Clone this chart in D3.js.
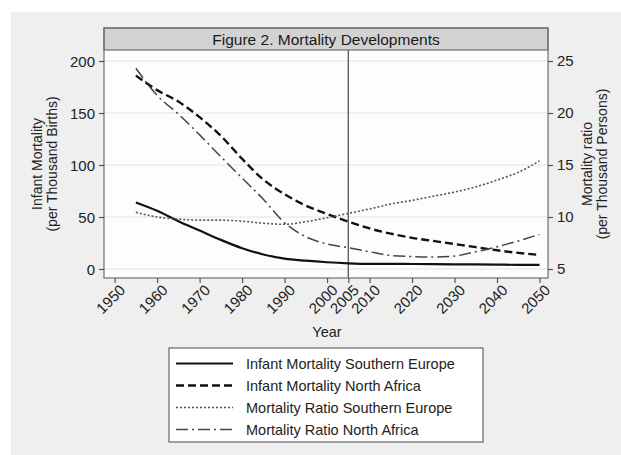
<!DOCTYPE html>
<html>
<head>
<meta charset="utf-8">
<script src="https://cdn.jsdelivr.net/npm/d3@7"></script>
<style>
  html, body { margin: 0; padding: 0; background: #ffffff; }
  svg { display: block; font-family: "Liberation Sans", Arial, sans-serif; }
</style>
</head>
<body>
<svg id="chart" width="621" height="455"></svg>
<script>
// Years observed / projected
const years = [1955, 1960, 1965, 1970, 1975, 1980, 1985, 1990, 1995, 2000,
               2005, 2010, 2015, 2020, 2025, 2030, 2035, 2040, 2045, 2050];

// Infant mortality per thousand births (left axis)
const infantSouthernEurope = [64, 56, 46, 37, 28, 20, 14, 10, 8, 6.5,
                              5.5, 5, 5, 4.8, 4.6, 4.5, 4.4, 4.2, 4, 4];
const infantNorthAfrica = [186, 172, 161, 146, 128, 106, 86, 72, 61, 53,
                           45.5, 39, 34, 30, 27, 24, 21, 18, 15.5, 13.5];

// Mortality ratio per thousand persons (right axis)
const ratioSouthernEurope = [10.45, 10.0, 9.8, 9.7, 9.7, 9.6, 9.4, 9.3, 9.55, 9.93,
                             10.35, 10.77, 11.25, 11.6, 12.0, 12.4, 12.9, 13.55, 14.3, 15.4];
const ratioNorthAfrica = [24.3, 21.7, 19.9, 17.9, 15.8, 13.75, 11.7, 9.45, 8.1, 7.4,
                          7.05, 6.66, 6.3, 6.2, 6.15, 6.25, 6.66, 7.14, 7.7, 8.33];

// Axis ticks
const xTicks = [1950, 1960, 1970, 1980, 1990, 2000, 2005, 2010, 2020, 2030, 2040, 2050];
const leftTicks = [0, 50, 100, 150, 200];
const rightTicks = [5, 10, 15, 20, 25];
const markerYear = 2005;

const titleText = "Figure 2. Mortality Developments";
const legendLabels = [
  "Infant Mortality Southern Europe",
  "Infant Mortality North Africa",
  "Mortality Ratio Southern Europe",
  "Mortality Ratio North Africa"
];

// ---- layout ----
const svg = d3.select("#chart");
const plot = { left: 104, right: 548, top: 50, bottom: 278, bandTop: 28 };

const x = d3.scaleLinear().domain([1947.5, 2052]).range([plot.left, plot.right]);
const yL = d3.scaleLinear().domain([-8.65, 210.6]).range([plot.bottom, plot.top]);
const yR = d3.scaleLinear().domain([4.135, 26.06]).range([plot.bottom, plot.top]);

// outer background
svg.append("rect").attr("x", 11).attr("y", 12).attr("width", 610).attr("height", 443)
  .attr("fill", "#efefef");

// plot area
svg.append("rect").attr("x", plot.left).attr("y", plot.top)
  .attr("width", plot.right - plot.left).attr("height", plot.bottom - plot.top)
  .attr("fill", "#fdfdfd");

// grid lines
svg.append("g").selectAll("line").data(leftTicks).join("line")
  .attr("x1", plot.left).attr("x2", plot.right)
  .attr("y1", d => yL(d)).attr("y2", d => yL(d))
  .attr("stroke", "#ebebeb").attr("stroke-width", 1.5);

// title band
svg.append("rect").attr("x", plot.left).attr("y", plot.bandTop)
  .attr("width", plot.right - plot.left).attr("height", plot.top - plot.bandTop)
  .attr("fill", "#d2d2d2").attr("stroke", "#6e6e6e").attr("stroke-width", 1.2);
svg.append("text").attr("x", (plot.left + plot.right) / 2).attr("y", 44.5)
  .attr("text-anchor", "middle").attr("font-size", 15.5).attr("fill", "#1a1a1a")
  .text(titleText);

// marker line at 2005
svg.append("line").attr("x1", x(markerYear)).attr("x2", x(markerYear))
  .attr("y1", plot.top).attr("y2", plot.bottom)
  .attr("stroke", "#555").attr("stroke-width", 1.3);

// series
const line = (yScale, vals) => d3.line()
  .x((d, i) => x(years[i]))
  .y(d => yScale(d))
  .curve(d3.curveMonotoneX)(vals);

const series = [
  { vals: infantSouthernEurope, scale: yL, stroke: "#111", width: 2.2, dash: null },
  { vals: infantNorthAfrica, scale: yL, stroke: "#111", width: 2.4, dash: "8,4" },
  { vals: ratioSouthernEurope, scale: yR, stroke: "#555", width: 1.6, dash: "2,2" },
  { vals: ratioNorthAfrica, scale: yR, stroke: "#444", width: 1.5, dash: "12,4,2,4" }
];

svg.append("g").selectAll("path").data(series).join("path")
  .attr("d", s => line(s.scale, s.vals))
  .attr("fill", "none")
  .attr("stroke", s => s.stroke)
  .attr("stroke-width", s => s.width)
  .attr("stroke-dasharray", s => s.dash);

// plot frame
svg.append("rect").attr("x", plot.left).attr("y", plot.bandTop)
  .attr("width", plot.right - plot.left).attr("height", plot.bottom - plot.bandTop)
  .attr("fill", "none").attr("stroke", "#6e6e6e").attr("stroke-width", 1.2);

// axes
const styleAxis = g => {
  g.select(".domain").remove();
  g.selectAll(".tick line").attr("stroke", "#555").attr("stroke-width", 1.2);
  g.selectAll(".tick text").attr("fill", "#222").attr("font-size", 15)
    .attr("font-family", "Liberation Sans, Arial, sans-serif");
};

svg.append("g").attr("transform", `translate(${plot.left},0)`)
  .call(d3.axisLeft(yL).tickValues(leftTicks).tickSize(5).tickPadding(4))
  .call(styleAxis)
  .selectAll(".tick text").attr("dy", "0.35em");

svg.append("g").attr("transform", `translate(${plot.right},0)`)
  .call(d3.axisRight(yR).tickValues(rightTicks).tickSize(5).tickPadding(4))
  .call(styleAxis);

const xAxisG = svg.append("g").attr("transform", `translate(0,${plot.bottom})`)
  .call(d3.axisBottom(x).tickValues(xTicks).tickFormat(d3.format("d")).tickSize(5).tickPadding(2))
  .call(styleAxis);
xAxisG.selectAll(".tick text")
  .attr("text-anchor", "end")
  .attr("dy", null)
  .attr("transform", "translate(4,6) rotate(-45)")
  .attr("y", 10).attr("x", 0);

// axis titles
svg.append("text").attr("x", 327).attr("y", 337).attr("text-anchor", "middle")
  .attr("font-size", 14.5).attr("fill", "#222").text("Year");

const leftTitle = svg.append("text").attr("text-anchor", "middle")
  .attr("font-size", 14).attr("fill", "#222")
  .attr("transform", "translate(42,164) rotate(-90)");
leftTitle.append("tspan").attr("x", 0).attr("y", 0).text("Infant Mortality");
leftTitle.append("tspan").attr("x", 0).attr("y", 15).text("(per Thousand Births)");

const rightTitle = svg.append("text").attr("text-anchor", "middle")
  .attr("font-size", 14).attr("fill", "#222")
  .attr("transform", "translate(592,164) rotate(-90)");
rightTitle.append("tspan").attr("x", 0).attr("y", 0).text("Mortality ratio");
rightTitle.append("tspan").attr("x", 0).attr("y", 15).text("(per Thousand Persons)");

// legend
const legend = svg.append("g");
legend.append("rect").attr("x", 169).attr("y", 348).attr("width", 314).attr("height", 94)
  .attr("fill", "#ffffff").attr("stroke", "#666").attr("stroke-width", 1.2);
const rows = legend.selectAll("g.row").data(series).join("g")
  .attr("class", "row")
  .attr("transform", (d, i) => `translate(0,${363.5 + i * 22})`);
rows.append("line").attr("x1", 176).attr("x2", 233).attr("y1", 0).attr("y2", 0)
  .attr("stroke", s => s.stroke).attr("stroke-width", s => s.width)
  .attr("stroke-dasharray", s => s.dash);
rows.append("text").attr("x", 246).attr("y", 5).attr("font-size", 14.5).attr("fill", "#222")
  .text((d, i) => legendLabels[i]);
</script>
</body>
</html>
